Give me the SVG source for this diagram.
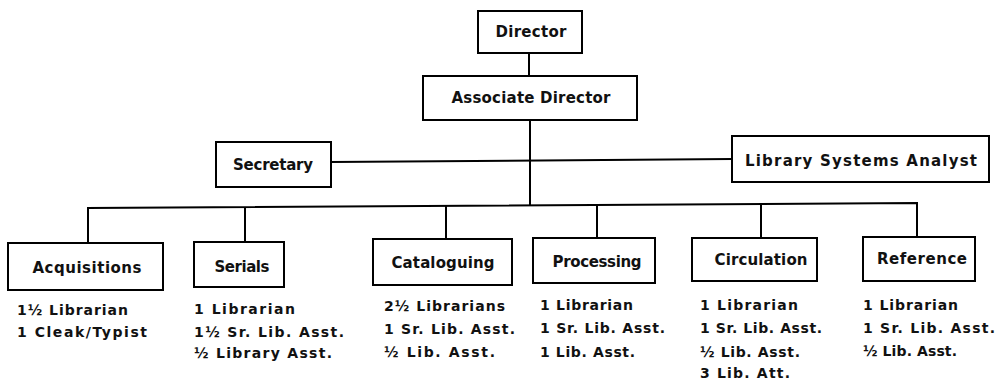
<svg xmlns="http://www.w3.org/2000/svg" width="1005" height="382" viewBox="0 0 1005 382">
<style>
.box{fill:#fff;stroke:#000;stroke-width:2}
.ln{fill:none;stroke:#000;stroke-width:2}
.lbl{font-family:"DejaVu Sans","Liberation Sans",Arial,sans-serif;font-weight:bold;font-size:15px;fill:#111;text-anchor:middle}
.st{font-family:"DejaVu Sans","Liberation Sans",Arial,sans-serif;font-weight:bold;font-size:14px;fill:#111}
</style>
<rect width="1005" height="382" fill="#fff"/>
<g id="connectors">
<line class="ln" x1="529" y1="53" x2="529" y2="76"/>
<line class="ln" x1="530" y1="120" x2="530" y2="206"/>
<line class="ln" x1="331" y1="162" x2="732" y2="159"/>
<polyline class="ln" points="88,242 88,208 917,203 917,237"/>
<line class="ln" x1="245" y1="207.5" x2="245" y2="242"/>
<line class="ln" x1="446" y1="206" x2="446" y2="239"/>
<line class="ln" x1="597" y1="205" x2="597" y2="238"/>
<line class="ln" x1="761" y1="204" x2="761" y2="238"/>
</g>
<g id="director">
<rect class="box" x="478" y="11" width="104" height="42"/>
<text class="lbl" x="531" y="37" textLength="71" lengthAdjust="spacing">Director</text>
</g>
<g id="associate-director">
<rect class="box" x="423" y="76" width="214" height="44"/>
<text class="lbl" x="531" y="103" textLength="159" lengthAdjust="spacing">Associate Director</text>
</g>
<g id="secretary">
<rect class="box" x="216" y="142" width="115" height="45"/>
<text class="lbl" x="273" y="170" textLength="80" lengthAdjust="spacing">Secretary</text>
</g>
<g id="library-systems-analyst">
<rect class="box" x="732" y="136" width="257" height="46"/>
<text class="lbl" x="861" y="166" textLength="232" lengthAdjust="spacing">Library Systems Analyst</text>
</g>
<g id="acquisitions">
<rect class="box" x="8" y="243" width="155" height="47"/>
<text class="lbl" x="87" y="273" textLength="109" lengthAdjust="spacing">Acquisitions</text>
<text class="st" x="17" y="315" textLength="111" lengthAdjust="spacing">1½ Librarian</text>
<text class="st" x="17" y="337" textLength="130" lengthAdjust="spacing">1 Cleak/Typist</text>
</g>
<g id="serials">
<rect class="box" x="194" y="242" width="90" height="45"/>
<text class="lbl" x="242" y="272" textLength="55" lengthAdjust="spacing">Serials</text>
<text class="st" x="194" y="314" textLength="101" lengthAdjust="spacing">1 Librarian</text>
<text class="st" x="194" y="337" textLength="150" lengthAdjust="spacing">1½ Sr. Lib. Asst.</text>
<text class="st" x="194" y="358" textLength="138" lengthAdjust="spacing">½ Library Asst.</text>
</g>
<g id="cataloguing">
<rect class="box" x="373" y="239" width="139" height="46"/>
<text class="lbl" x="443" y="268" textLength="103" lengthAdjust="spacing">Cataloguing</text>
<text class="st" x="384" y="311" textLength="121" lengthAdjust="spacing">2½ Librarians</text>
<text class="st" x="384" y="334" textLength="131" lengthAdjust="spacing">1 Sr. Lib. Asst.</text>
<text class="st" x="384" y="357" textLength="111" lengthAdjust="spacing">½ Lib. Asst.</text>
</g>
<g id="processing">
<rect class="box" x="533" y="238" width="122" height="45"/>
<text class="lbl" x="597" y="267" textLength="89" lengthAdjust="spacing">Processing</text>
<text class="st" x="540" y="310" textLength="93" lengthAdjust="spacing">1 Librarian</text>
<text class="st" x="540" y="333" textLength="125" lengthAdjust="spacing">1 Sr. Lib. Asst.</text>
<text class="st" x="540" y="357" textLength="95" lengthAdjust="spacing">1 Lib. Asst.</text>
</g>
<g id="circulation">
<rect class="box" x="692" y="238" width="125" height="43"/>
<text class="lbl" x="761" y="265" textLength="93" lengthAdjust="spacing">Circulation</text>
<text class="st" x="700" y="310" textLength="98" lengthAdjust="spacing">1 Librarian</text>
<text class="st" x="700" y="333" textLength="122" lengthAdjust="spacing">1 Sr. Lib. Asst.</text>
<text class="st" x="700" y="357" textLength="100" lengthAdjust="spacing">½ Lib. Asst.</text>
<text class="st" x="700" y="378" textLength="90" lengthAdjust="spacing">3 Lib. Att.</text>
</g>
<g id="reference">
<rect class="box" x="863" y="237" width="112" height="44"/>
<text class="lbl" x="922" y="264" textLength="90" lengthAdjust="spacing">Reference</text>
<text class="st" x="863" y="310" textLength="95" lengthAdjust="spacing">1 Librarian</text>
<text class="st" x="863" y="333" textLength="132" lengthAdjust="spacing">1 Sr. Lib. Asst.</text>
<text class="st" x="863" y="356" textLength="94" lengthAdjust="spacing">½ Lib. Asst.</text>
</g>
</svg>
